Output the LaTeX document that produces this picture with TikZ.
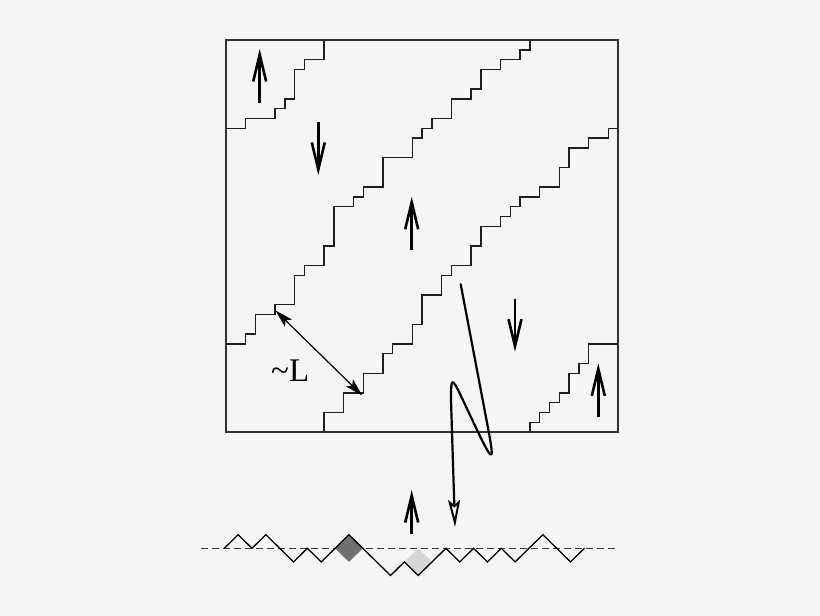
\documentclass[tikz,border=0pt]{standalone}
\usepackage{fontspec}
\setmainfont{Liberation Serif}
\usetikzlibrary{arrows.meta}
\definecolor{bgc}{RGB}{245,245,245}
\definecolor{boxc}{RGB}{50,50,50}
\definecolor{stairc}{RGB}{30,30,30}
\definecolor{darkdia}{RGB}{112,112,112}
\definecolor{lightdia}{RGB}{214,214,214}
\definecolor{dashc}{RGB}{60,60,60}
\tikzset{
  frame/.style={draw=boxc, line width=1.2pt},
  stair/.style={draw=stairc, line width=1.4pt, line join=miter},
  spin/.style={line width=2.6pt, -{Straight Barb[length=27pt, width=13pt, line width=2.6pt]}},
  dist/.style={line width=1.2pt, {Stealth[length=18pt, width=10pt, inset=4pt]}-{Stealth[length=18pt, width=10pt, inset=4pt]}},
  traj/.style={line width=2.2pt, line cap=round, line join=round},
  zig/.style={draw=black, line width=1.3pt, line join=miter},
  baseline/.style={draw=dashc, line width=1.3pt, dash pattern=on 7pt off 4pt},
}
\begin{document}
\begin{tikzpicture}[x=1pt, y=-1pt]
\fill[bgc] (0,0) rectangle (820,616);
\useasboundingbox (0,0) rectangle (820,616);

% lattice box with domain walls
\begin{scope}[shift={(226,40)}, x=9.8pt, y=-9.8pt]
  \draw[frame] (0,0) rectangle (40,40);
  \draw[stair] (0,9) -- (2,9) -- (2,8) -- (5,8) -- (5,7) -- (6,7) -- (6,6) -- (7,6) -- (7,3) -- (8,3) -- (8,2) -- (10,2) -- (10,0);
  \draw[stair] (0,31) -- (2,31) -- (2,30) -- (3,30) -- (3,28) -- (5,28) -- (5,27) -- (7,27) -- (7,24) -- (8,24) -- (8,23) -- (10,23) -- (10,21) -- (11,21) -- (11,17) -- (13,17) -- (13,16) -- (14,16) -- (14,15) -- (16,15) -- (16,12) -- (19,12) -- (19,10) -- (20,10) -- (20,9) -- (21,9) -- (21,8) -- (23,8) -- (23,6) -- (25,6) -- (25,5) -- (26,5) -- (26,3) -- (28,3) -- (28,2) -- (30,2) -- (30,1) -- (31,1) -- (31,0);
  \draw[stair] (10,40) -- (10,38) -- (12,38) -- (12,36) -- (14,36) -- (14,34) -- (16,34) -- (16,32) -- (17,32) -- (17,31) -- (19,31) -- (19,29) -- (20,29) -- (20,26) -- (22,26) -- (22,24) -- (23,24) -- (23,23) -- (25,23) -- (25,21) -- (26,21) -- (26,19) -- (28,19) -- (28,18) -- (29,18) -- (29,17) -- (30,17) -- (30,16) -- (32,16) -- (32,15) -- (34,15) -- (34,13) -- (35,13) -- (35,11) -- (37,11) -- (37,10) -- (39,10) -- (39,9) -- (40,9);
  \draw[stair] (31,40) -- (31,39) -- (32,39) -- (32,38) -- (33,38) -- (33,37) -- (34,37) -- (34,36) -- (35,36) -- (35,34) -- (36,34) -- (36,33) -- (37,33) -- (37,31) -- (40,31);
\end{scope}

% spin arrows
\coordinate (s1a) at (259.7,102.7); \coordinate (s1b) at (259.7,49);
\coordinate (s2a) at (318.3,122.3); \coordinate (s2b) at (318.3,175);
\coordinate (s3a) at (411.7,250);   \coordinate (s3b) at (411.7,196.7);
\coordinate (s4a) at (515,299);     \coordinate (s4b) at (515,351.7);
\coordinate (s5a) at (598.3,416.7); \coordinate (s5b) at (598.3,363.3);
\coordinate (s6a) at (411.7,534);   \coordinate (s6b) at (411.7,490);
\draw[spin] (s1a) -- (s1b);
\draw[spin] (s2a) -- (s2b);
\draw[spin] (s3a) -- (s3b);
\draw[spin] (s4a) -- (s4b);
\draw[spin] (s5a) -- (s5b);
\draw[spin] (s6a) -- (s6b);

% distance L
\coordinate (la) at (275.5,310.5);
\coordinate (lb) at (362.3,395.5);
\draw[dist] (la) -- (lb);
\node[anchor=base west, inner sep=0pt, font=\fontsize{33}{38}\selectfont] (lbl) at (271,381.7) {\textasciitilde L};

% trajectory
\coordinate (t0) at (460.7,284.3);
\coordinate (t1) at (486.5,420);
\coordinate (t2) at (478,432);
\coordinate (t3) at (461,396);
\coordinate (t4) at (451,400);
\coordinate (t5) at (455,527);
\draw[traj] (t0) -- (t1) .. controls (494,459) and (495.2,468) .. (t2) -- (t3)
  .. controls (451.5,376) and (451,378) .. (t4);
\draw[traj, -{Stealth[length=27pt, width=12pt, inset=5pt, fill=white, line width=2pt]}] (t4) -- (t5);

% height profile
\coordinate (d0) at (201,548.8);
\coordinate (d1) at (618.3,548.8);
\draw[baseline] (d0) -- (d1);
\begin{scope}[shift={(224.3,548.3)}, x=13.85pt, y=13.6pt]
  \fill[darkdia] (8,0) -- (9,1) -- (10,0) -- (9,-1) -- cycle;
  \fill[lightdia] (13,-1) -- (14,0) -- (15,-1) -- (14,-2) -- cycle;
  \draw[zig] (0,0) -- (1,1) -- (2,0) -- (3,1) -- (4,0) -- (5,-1) -- (6,0) -- (7,-1) -- (8,0) -- (9,1) -- (10,0) -- (11,-1) -- (12,-2) -- (13,-1) -- (14,-2) -- (15,-1) -- (16,0) -- (17,-1) -- (18,0) -- (19,-1) -- (20,0) -- (21,-1) -- (22,0) -- (23,1) -- (24,0) -- (25,-1) -- (26,0);
\end{scope}
\end{tikzpicture}
\end{document}
